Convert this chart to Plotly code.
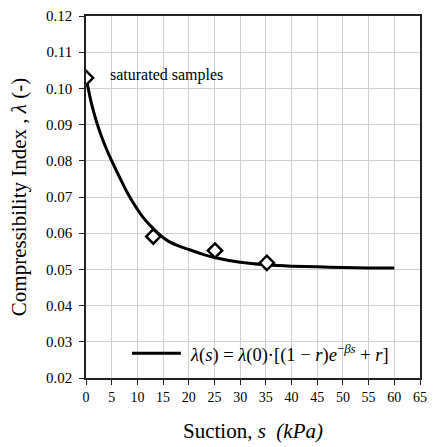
import plotly.graph_objects as go

# Measured compressibility index at each suction level
suction_meas = [0, 13.1, 25.1, 35.2]
lambda_meas = [0.1029, 0.0591, 0.0552, 0.0518]

# Fitted curve lambda(s)
suction_fit = [0, 1, 2, 3, 4, 5, 6, 7, 8, 9, 10, 11, 12, 13, 14, 15, 16, 18, 20,
               22.5, 25, 30, 35, 40, 45, 50, 55, 60]
lambda_fit = [0.1030, 0.0962, 0.0910, 0.0868, 0.0832, 0.0800, 0.0770, 0.0741, 0.0713,
              0.0688, 0.0666, 0.0646, 0.0629, 0.0614, 0.0600, 0.0588, 0.0578, 0.0565,
              0.0555, 0.0543, 0.0533, 0.0520, 0.0513, 0.0509, 0.0507, 0.0505, 0.0504,
              0.0504]

x_ticks = list(range(0, 66, 5))
y_ticks = [0.02, 0.03, 0.04, 0.05, 0.06, 0.07, 0.08, 0.09, 0.10, 0.11, 0.12]

SERIF = "Liberation Serif"

fig = go.Figure()

fig.add_trace(go.Scatter(
    x=suction_fit, y=lambda_fit, mode="lines",
    line=dict(color="black", width=3, shape="spline", smoothing=0.5),
    showlegend=False, hoverinfo="skip",
))

fig.add_trace(go.Scatter(
    x=suction_meas, y=lambda_meas, mode="markers",
    marker=dict(symbol="diamond", size=11, color="white",
                line=dict(color="black", width=2.5)),
    showlegend=False,
))

# Legend panel: white background, sample line and equation text
fig.add_shape(type="rect", xref="paper", yref="paper",
              x0=0.255, x1=0.972, y0=0.0, y1=0.115,
              fillcolor="white", line=dict(width=0), layer="between")
fig.add_shape(type="line", xref="paper", yref="paper",
              x0=0.1376, x1=0.2841, y0=0.0687, y1=0.0687,
              line=dict(color="black", width=3), layer="above")
fig.add_annotation(
    xref="paper", yref="paper", x=0.305, y=0.0687,
    xanchor="left", yanchor="middle", showarrow=False,
    text="<i>λ</i>(<i>s</i>) = <i>λ</i>(0)·[(1 − <i>r</i>)<i>e</i><sup>−<i>βs</i></sup> + <i>r</i>]",
    font=dict(family=SERIF, size=18.5, color="black"),
)

fig.add_annotation(
    x=4.2, y=0.1038, xref="x", yref="y",
    xanchor="left", yanchor="middle", showarrow=False,
    text="saturated samples",
    font=dict(family=SERIF, size=16, color="black"),
)

fig.update_xaxes(
    range=[0, 65], tickvals=x_ticks, ticktext=[str(v) for v in x_ticks],
    showgrid=True, gridcolor="#d0d0d0", gridwidth=1,
    showline=True, linecolor="#222", linewidth=1.5, mirror=True,
    ticks="outside", ticklen=5, tickcolor="#222", tickwidth=1,
    tickfont=dict(family=SERIF, size=14, color="black"),
    zeroline=False,
    title=dict(text="Suction, <i>s</i>  <i>(kPa)</i>",
               font=dict(family=SERIF, size=21, color="black"), standoff=20),
)
fig.update_yaxes(
    range=[0.02, 0.12], tickvals=y_ticks, ticktext=[f"{v:.2f}" for v in y_ticks],
    showgrid=True, gridcolor="#d0d0d0", gridwidth=1,
    showline=True, linecolor="#222", linewidth=1.5, mirror=True,
    ticks="outside", ticklen=5, tickcolor="#222", tickwidth=1,
    ticklabelstandoff=4,
    tickfont=dict(family=SERIF, size=15, color="black"),
    zeroline=False,
    title=dict(text="Compressibility Index , <i>λ</i> (-)",
               font=dict(family=SERIF, size=21, color="black"), standoff=14),
)

fig.update_layout(
    width=435, height=447,
    margin=dict(l=86, r=8, t=15, b=68),
    paper_bgcolor="white", plot_bgcolor="white",
    font=dict(family=SERIF, color="black"),
)

fig.write_html("out.html")
